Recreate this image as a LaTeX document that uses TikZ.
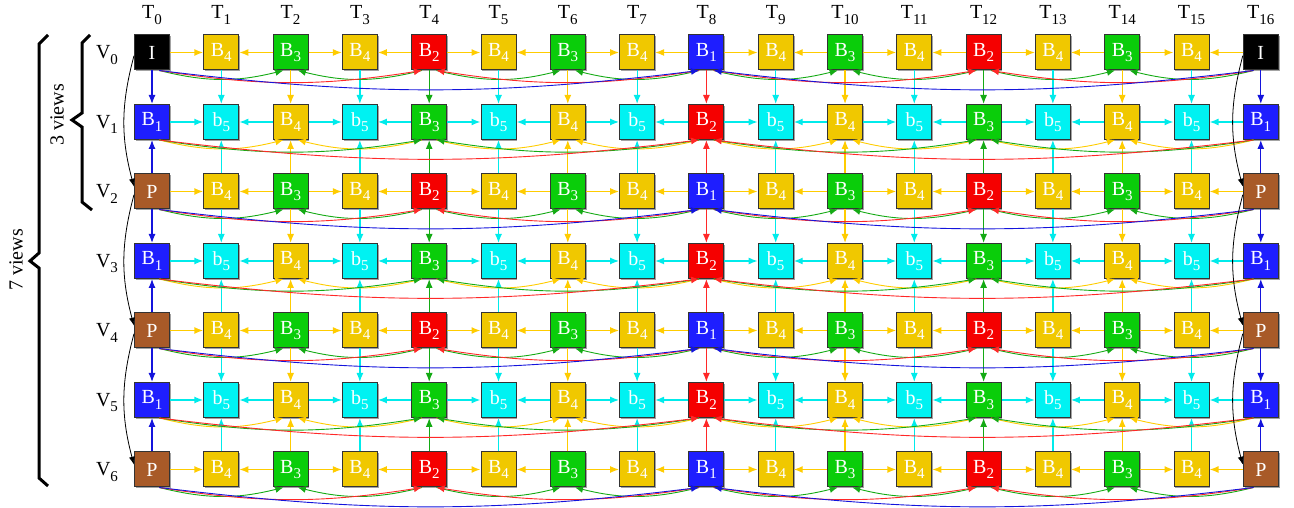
\documentclass[tikz,border=0pt]{standalone}
\usepackage{fontspec}
\setmainfont{Liberation Serif}
\usetikzlibrary{arrows.meta, shadows}
\definecolor{cI}{RGB}{0,0,0}
\definecolor{cP}{RGB}{168,90,40}
\definecolor{cB1}{RGB}{30,30,255}
\definecolor{cB2}{RGB}{245,0,0}
\definecolor{cB3}{RGB}{10,205,10}
\definecolor{cB4}{RGB}{240,200,0}
\definecolor{cB5}{RGB}{0,242,242}
% link colours (one per target frame type)
\definecolor{aB1}{RGB}{20,20,220}
\definecolor{aB2}{RGB}{255,40,40}
\definecolor{aB3}{RGB}{20,170,20}
\definecolor{aB4}{RGB}{255,204,0}
\definecolor{aB5}{RGB}{0,235,235}
\newcommand{\fsub}[2]{#1\raisebox{-0.28em}{\fontsize{15}{15}\selectfont #2}}
\tikzset{
  frame/.style={draw=black!80, line width=1pt, minimum size=35pt, inner sep=0pt, text=white,
    drop shadow={shadow xshift=1.3pt, shadow yshift=-1.3pt, fill=black!45, opacity=0.8}},
  lab/.style={text=black},
  hlink/.style={-{Latex[length=9pt,width=7pt]}, line width=1.4pt},
  vlink/.style={-{Latex[length=9pt,width=7pt]}, line width=1.2pt},
  curve/.style={-{Latex[length=8pt,width=7pt]}, line width=0.9pt},
  viewlink/.style={-{Latex[length=8pt,width=6pt]}, line width=0.8pt, black},
  brace/.style={line width=3pt, miter limit=10},
  every node/.style={font=\fontsize{20}{22}\selectfont}
}
\begin{document}
\begin{tikzpicture}[x=1pt, y=1pt]
    \useasboundingbox (0,0) rectangle (1294,508);
    % time and view labels
    \foreach \c in {0,...,16}
        \node[lab] (t\c) at ({152+69.3*\c},493) {\fsub{T}{\c}};
    \foreach \r in {0,...,6}
        \node[lab] (v\r) at (107,{453-69.5*\r}) {\fsub{V}{\r}};
    % frames
    \foreach \r in {0,2,4,6}
        \foreach \c/\k in {1/4,2/3,3/4,4/2,5/4,6/3,7/4,8/1,9/4,10/3,11/4,12/2,13/4,14/3,15/4}
            \node[frame, fill=cB\k] (f\r-\c) at ({152+69.3*\c},{455.5-69.5*\r}) {\fsub{B}{\k}};
    \foreach \r in {1,3,5}
        \foreach \c/\k in {0/1,1/5,2/4,3/5,4/3,5/5,6/4,7/5,8/2,9/5,10/4,11/5,12/3,13/5,14/4,15/5,16/1}
            \node[frame, fill=cB\k] (f\r-\c) at ({152+69.3*\c},{455.5-69.5*\r}) {\fsub{\ifnum\k=5 b\else B\fi}{\k}};
    \foreach \c in {0,16} {
        \node[frame, fill=cI] (f0-\c) at ({152+69.3*\c},455.5) {I};
        \foreach \r in {2,4,6}
            \node[frame, fill=cP] (f\r-\c) at ({152+69.3*\c},{455.5-69.5*\r}) {P};
    }
    % temporal links to neighbours
    \foreach \r/\hk in {0/4,1/5,2/4,3/5,4/4,5/5,6/4}
        \foreach \c in {1,3,...,15} {
            \pgfmathtruncatemacro\cprev{\c-1}
            \pgfmathtruncatemacro\cnext{\c+1}
            \draw[hlink, aB\hk] (f\r-\cprev) -- (f\r-\c);
            \draw[hlink, aB\hk] (f\r-\cnext) -- (f\r-\c);
        }
    % inter-view links into odd views
    \foreach \r in {1,3,5} {
        \pgfmathtruncatemacro\vup{\r-1}
        \pgfmathtruncatemacro\vdown{\r+1}
        \foreach \c/\k in {0/1,1/5,2/4,3/5,4/3,5/5,6/4,7/5,8/2,9/5,10/4,11/5,12/3,13/5,14/4,15/5,16/1} {
            \draw[vlink, aB\k] (f\vup-\c) -- (f\r-\c);
            \draw[vlink, aB\k] (f\vdown-\c) -- (f\r-\c);
        }
    }
    % hierarchical links below each view
    \foreach \c/\s/\ke/\ko/\bnd in {2/2/3/4/14,6/2/3/4/14,10/2/3/4/14,14/2/3/4/14,4/4/2/3/9,12/4/2/3/9,8/8/1/2/7} {
        \pgfmathtruncatemacro\cleft{\c-\s}
        \pgfmathtruncatemacro\cright{\c+\s}
        \foreach \r in {0,2,4,6} {
            \draw[curve, aB\ke] (f\r-\cleft.-68) to[bend right=\bnd] (f\r-\c.-112);
            \draw[curve, aB\ke] (f\r-\cright.-112) to[bend left=\bnd] (f\r-\c.-68);
        }
        \foreach \r in {1,3,5} {
            \draw[curve, aB\ko] (f\r-\cleft.-68) to[bend right=\bnd] (f\r-\c.-112);
            \draw[curve, aB\ko] (f\r-\cright.-112) to[bend left=\bnd] (f\r-\c.-68);
        }
    }
    % I/P anchors two views apart
    \foreach \c in {0,16}
        \foreach \r in {0,2,4} {
            \pgfmathtruncatemacro\vnext{\r+2}
            \draw[viewlink] (f\r-\c.-170) to[bend right=15] (f\vnext-\c.165);
        }
    % view groups
    \draw[brace] (90,473) -- (82,465) -- (82,395) -- (72,388) -- (82,381) -- (82,306) -- (92,298);
    \draw[brace] (48,473) -- (39,464) -- (39,255) -- (30,247) -- (39,240) -- (39,30) -- (48,22);
    \node[rotate=90] (g3) at (57,393) {3 views};
    \node[rotate=90] (g7) at (16,248) {7 views};
\end{tikzpicture}
\end{document}
